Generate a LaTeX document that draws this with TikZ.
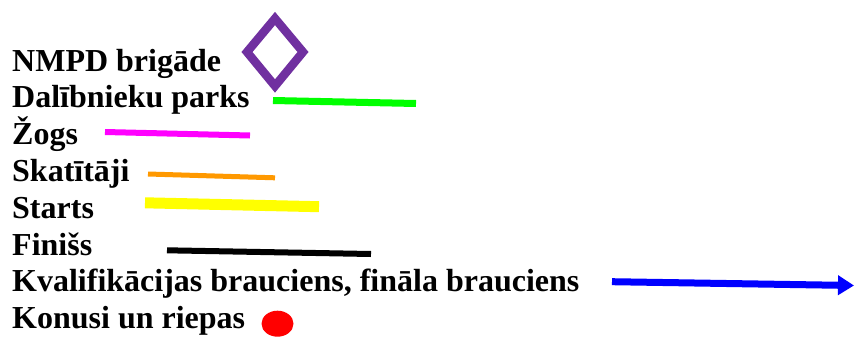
\documentclass[tikz,border=0pt]{standalone}
\usepackage{fontspec}
\setmainfont{Liberation Serif}
\usetikzlibrary{arrows.meta,shapes.geometric}
\definecolor{nmpdpurple}{RGB}{112,48,160}
\definecolor{parksgreen}{RGB}{0,255,0}
\definecolor{zogsmagenta}{RGB}{255,0,255}
\definecolor{skatorange}{RGB}{255,153,0}
\definecolor{startyellow}{RGB}{255,255,0}
\definecolor{braucblue}{RGB}{0,0,255}
\definecolor{konusred}{RGB}{255,0,0}

\begin{document}
\begin{tikzpicture}[x=1pt, y=-1pt, every node/.style={font=\fontsize{32}{38}\selectfont\bfseries, inner sep=0pt, anchor=base west}]
  \useasboundingbox (0,0) rectangle (855,338);

  \node (t1) at (12,71)    {NMPD brigāde};
  \node (t2) at (12,107.5) {Dalībnieku parks};
  \node (t3) at (12,144.5) {Žogs};
  \node (t4) at (12,181.5) {Skatītāji};
  \node (t5) at (12,218)   {Starts};
  \node (t6) at (12,255)   {Finišs};
  \node (t7) at (12,291.5) {Kvalifikācijas brauciens, fināla brauciens};
  \node (t8) at (12,328)   {Konusi un riepas};

  \coordinate (d1) at (275,18.5);
  \coordinate (d2) at (303,52);
  \coordinate (d3) at (275,86);
  \coordinate (d4) at (247,52);

  \coordinate (g1) at (273,100.5);
  \coordinate (g2) at (416,103.5);
  \coordinate (m1) at (105,132);
  \coordinate (m2) at (250,135.5);
  \coordinate (o1) at (148,174);
  \coordinate (o2) at (275,177.8);
  \coordinate (y1) at (145,202.8);
  \coordinate (y2) at (319,206.7);
  \coordinate (f1) at (167,250.3);
  \coordinate (f2) at (371,254);
  \coordinate (a1) at (612,281.7);
  \coordinate (a2) at (854,285.5);

  \draw[nmpdpurple, line width=8.5pt] (d1) -- (d2) -- (d3) -- (d4) -- cycle;
  \draw[parksgreen, line width=7pt] (g1) -- (g2);
  \draw[zogsmagenta, line width=6pt] (m1) -- (m2);
  \draw[skatorange, line width=5pt] (o1) -- (o2);
  \draw[startyellow, line width=11pt] (y1) -- (y2);
  \draw[black, line width=6pt] (f1) -- (f2);
  \draw[braucblue, line width=7pt, -{Triangle[length=16pt, width=19pt]}] (a1) -- (a2);

  \node[ellipse, fill=konusred, minimum width=32pt, minimum height=26pt, anchor=center] (cone) at (277.5,323.7) {};
\end{tikzpicture}
\end{document}
